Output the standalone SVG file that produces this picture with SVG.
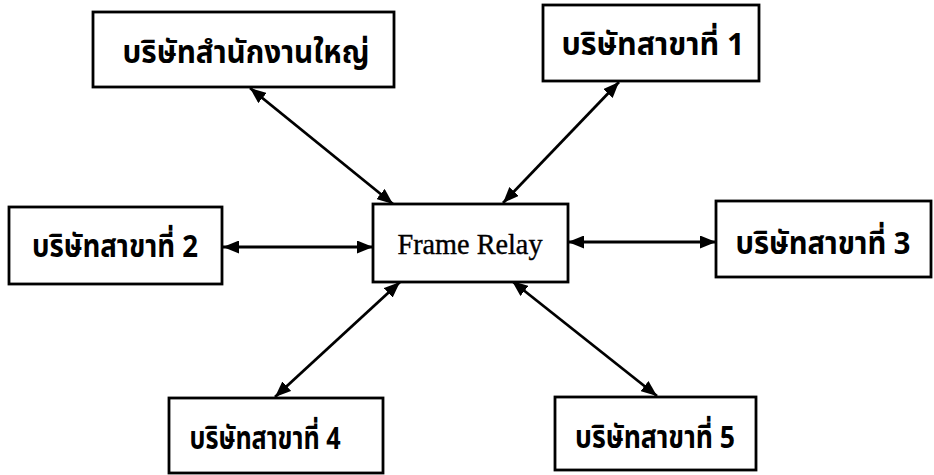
<svg xmlns="http://www.w3.org/2000/svg" width="934" height="475" viewBox="0 0 934 475">
<defs>
<marker id="ah" viewBox="0 0 16 13" refX="16" refY="6.5" markerWidth="16" markerHeight="13" markerUnits="userSpaceOnUse" orient="auto-start-reverse">
<path d="M0,0 L16,6.5 L0,13 z" fill="#000"/>
</marker>
<style>
.box{fill:#fff;stroke:#000;stroke-width:2.8}
.th{font-family:"Noto Sans Thai","Noto Sans Thai Looped","Loma","Garuda","DejaVu Sans","Noto Sans",sans-serif;font-size:31px;font-weight:bold;fill:#000;text-anchor:middle}
.en{font-family:"Liberation Serif","Times New Roman",serif;font-size:29px;fill:#000;text-anchor:middle;stroke:#000;stroke-width:0.4}
.conn{stroke:#000;stroke-width:2.8;fill:none;marker-start:url(#ah);marker-end:url(#ah)}
</style>
</defs>
<rect width="934" height="475" fill="#fff"/>
<g id="connectors">
<line class="conn" x1="250" y1="88" x2="393" y2="204"/>
<line class="conn" x1="619" y1="82" x2="503" y2="203"/>
<line class="conn" x1="223" y1="247" x2="373" y2="247"/>
<line class="conn" x1="568" y1="242" x2="716" y2="242"/>
<line class="conn" x1="400" y1="282" x2="275" y2="397"/>
<line class="conn" x1="512" y1="281" x2="657" y2="396"/>
</g>
<g id="hq">
<rect class="box" x="93" y="12" width="301" height="75"/>
<text class="th" x="246" y="63" textLength="247" lengthAdjust="spacingAndGlyphs">บริษัทสำนักงานใหญ่</text>
</g>
<g id="branch1">
<rect class="box" x="543" y="5" width="216" height="76"/>
<text class="th" x="653" y="55" textLength="183" lengthAdjust="spacingAndGlyphs">บริษัทสาขาที่ 1</text>
</g>
<g id="branch2">
<rect class="box" x="9" y="207" width="213" height="77"/>
<text class="th" x="115" y="257" textLength="166" lengthAdjust="spacingAndGlyphs">บริษัทสาขาที่ 2</text>
</g>
<g id="framerelay">
<rect class="box" x="373" y="204" width="195" height="78"/>
<text class="en" x="470" y="254" textLength="145" lengthAdjust="spacingAndGlyphs">Frame Relay</text>
</g>
<g id="branch3">
<rect class="box" x="716" y="201" width="215" height="76"/>
<text class="th" x="823" y="254" textLength="175" lengthAdjust="spacingAndGlyphs">บริษัทสาขาที่ 3</text>
</g>
<g id="branch4">
<rect class="box" x="169" y="398" width="214" height="75"/>
<text class="th" x="265" y="449" textLength="151" lengthAdjust="spacingAndGlyphs">บริษัทสาขาที่ 4</text>
</g>
<g id="branch5">
<rect class="box" x="555" y="397" width="201" height="73"/>
<text class="th" x="655" y="448" textLength="160" lengthAdjust="spacingAndGlyphs">บริษัทสาขาที่ 5</text>
</g>
</svg>
